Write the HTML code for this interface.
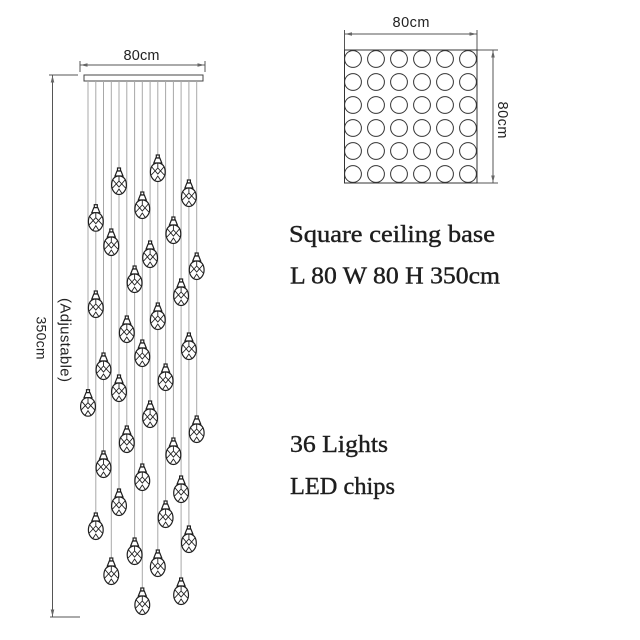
<!DOCTYPE html>
<html><head><meta charset="utf-8"><style>
html,body{margin:0;padding:0;background:#fff;}
svg{display:block;}
</style></head><body>
<svg width="640" height="640" viewBox="0 0 640 640" xmlns="http://www.w3.org/2000/svg">
<defs>
<g id="pd" fill="#fff" stroke="#1f1f1f" stroke-width="1.2">
<rect x="-1.5" y="-17" width="3" height="3"/>
<path d="M-2,-14 L2,-14 L4,-9 L-4,-9 Z"/>
<path d="M0,-9 C5,-9 7.4,-5 7.4,0 C7.4,5 4,9.5 0,9.5 C-4,9.5 -7.4,5 -7.4,0 C-7.4,-5 -5,-9 0,-9 Z"/>
<path d="M-6,-5 L0,2 L6,-5 M-6.5,3 L0,-4 L6.5,3 M-3,8.5 L0,4 L3,8.5 M0,-9 L0,-4" fill="none" stroke-width="0.9"/>
</g>
<path id="ar" d="M0,0 L7,-1.8 L7,1.8 Z" fill="#666" stroke="none"/>
</defs>

<!-- LEFT: top dimension -->
<g stroke="#555" stroke-width="1" fill="none">
<line x1="80" y1="65" x2="205" y2="65"/>
<line x1="80" y1="61" x2="80" y2="72"/>
<line x1="205" y1="61" x2="205" y2="72"/>
</g>
<use href="#ar" transform="translate(80.5,65)"/>
<use href="#ar" transform="translate(204.5,65) rotate(180)"/>
<text x="141.5" y="60" font-family="Liberation Sans, sans-serif" font-size="14.5" fill="#222" text-anchor="middle" textLength="36">80cm</text>

<!-- Vertical dimension -->
<g stroke="#555" stroke-width="1" fill="none">
<line x1="52.5" y1="75" x2="52.5" y2="617"/>
<line x1="49" y1="75" x2="78" y2="75"/>
<line x1="50" y1="617" x2="80" y2="617"/>
</g>
<use href="#ar" transform="translate(52.5,75.5) rotate(90)"/>
<use href="#ar" transform="translate(52.5,616.5) rotate(-90)"/>
<text transform="translate(41.5,338) rotate(90)" font-family="Liberation Sans, sans-serif" font-size="14" fill="#222" text-anchor="middle" dominant-baseline="central" textLength="43">350cm</text>
<text transform="translate(65,340) rotate(90)" font-family="Liberation Sans, sans-serif" font-size="15" fill="#222" text-anchor="middle" dominant-baseline="central" textLength="84">(Adjustable)</text>

<!-- Canopy -->
<rect x="84" y="75" width="119" height="6" fill="#fff" stroke="#444" stroke-width="1"/>

<!-- Wires -->
<g stroke="#a8a8a8" stroke-width="1">
<line x1="88" y1="81" x2="88" y2="390"/>
<line x1="95.8" y1="81" x2="95.8" y2="513"/>
<line x1="103.5" y1="81" x2="103.5" y2="451"/>
<line x1="111.3" y1="81" x2="111.3" y2="558"/>
<line x1="119" y1="81" x2="119" y2="489"/>
<line x1="126.8" y1="81" x2="126.8" y2="426"/>
<line x1="134.6" y1="81" x2="134.6" y2="538"/>
<line x1="142.3" y1="81" x2="142.3" y2="588"/>
<line x1="150.1" y1="81" x2="150.1" y2="401"/>
<line x1="157.8" y1="81" x2="157.8" y2="550"/>
<line x1="165.6" y1="81" x2="165.6" y2="501"/>
<line x1="173.4" y1="81" x2="173.4" y2="438"/>
<line x1="181.1" y1="81" x2="181.1" y2="578"/>
<line x1="188.9" y1="81" x2="188.9" y2="526"/>
<line x1="196.7" y1="81" x2="196.7" y2="416"/>
</g>

<!-- Pendants -->
<use href="#pd" x="88" y="406.7"/>
<use href="#pd" x="95.8" y="221.7"/>
<use href="#pd" x="95.8" y="308"/>
<use href="#pd" x="95.8" y="530"/>
<use href="#pd" x="103.5" y="370"/>
<use href="#pd" x="103.5" y="468"/>
<use href="#pd" x="111.3" y="246"/>
<use href="#pd" x="111.3" y="575"/>
<use href="#pd" x="119" y="185"/>
<use href="#pd" x="119" y="392"/>
<use href="#pd" x="119" y="506"/>
<use href="#pd" x="126.8" y="333"/>
<use href="#pd" x="126.8" y="443"/>
<use href="#pd" x="134.6" y="283"/>
<use href="#pd" x="134.6" y="555"/>
<use href="#pd" x="142.3" y="209"/>
<use href="#pd" x="142.3" y="357"/>
<use href="#pd" x="142.3" y="481"/>
<use href="#pd" x="142.3" y="605"/>
<use href="#pd" x="150.1" y="258"/>
<use href="#pd" x="150.1" y="418"/>
<use href="#pd" x="157.8" y="172"/>
<use href="#pd" x="157.8" y="320"/>
<use href="#pd" x="157.8" y="567"/>
<use href="#pd" x="165.6" y="381"/>
<use href="#pd" x="165.6" y="518"/>
<use href="#pd" x="173.4" y="234"/>
<use href="#pd" x="173.4" y="455"/>
<use href="#pd" x="181.1" y="296"/>
<use href="#pd" x="181.1" y="493"/>
<use href="#pd" x="181.1" y="595"/>
<use href="#pd" x="188.9" y="197"/>
<use href="#pd" x="188.9" y="350"/>
<use href="#pd" x="188.9" y="543"/>
<use href="#pd" x="196.7" y="270"/>
<use href="#pd" x="196.7" y="433"/>

<!-- TOP RIGHT: square base -->
<g stroke="#555" stroke-width="1" fill="none">
<line x1="344.5" y1="34" x2="477" y2="34"/>
<line x1="344.5" y1="30" x2="344.5" y2="50"/>
<line x1="477" y1="30" x2="477" y2="50"/>
<line x1="493" y1="50" x2="493" y2="183"/>
<line x1="477" y1="50" x2="498" y2="50"/>
<line x1="477" y1="183" x2="498" y2="183"/>
</g>
<use href="#ar" transform="translate(345,34)"/>
<use href="#ar" transform="translate(476.5,34) rotate(180)"/>
<use href="#ar" transform="translate(493,50.5) rotate(90)"/>
<use href="#ar" transform="translate(493,182.5) rotate(-90)"/>
<text x="411" y="27" font-family="Liberation Sans, sans-serif" font-size="14.5" fill="#222" text-anchor="middle" textLength="37">80cm</text>
<text transform="translate(502,120) rotate(90)" font-family="Liberation Sans, sans-serif" font-size="14.5" fill="#222" text-anchor="middle" dominant-baseline="central" textLength="37">80cm</text>

<rect x="344.5" y="50" width="132.5" height="133" fill="#fff" stroke="#333" stroke-width="1"/>
<g fill="none" stroke="#333" stroke-width="1">
<circle cx="353" cy="59" r="8.4"/><circle cx="376" cy="59" r="8.4"/><circle cx="399" cy="59" r="8.4"/><circle cx="422" cy="59" r="8.4"/><circle cx="445" cy="59" r="8.4"/><circle cx="468" cy="59" r="8.4"/>
<circle cx="353" cy="82" r="8.4"/><circle cx="376" cy="82" r="8.4"/><circle cx="399" cy="82" r="8.4"/><circle cx="422" cy="82" r="8.4"/><circle cx="445" cy="82" r="8.4"/><circle cx="468" cy="82" r="8.4"/>
<circle cx="353" cy="105" r="8.4"/><circle cx="376" cy="105" r="8.4"/><circle cx="399" cy="105" r="8.4"/><circle cx="422" cy="105" r="8.4"/><circle cx="445" cy="105" r="8.4"/><circle cx="468" cy="105" r="8.4"/>
<circle cx="353" cy="128" r="8.4"/><circle cx="376" cy="128" r="8.4"/><circle cx="399" cy="128" r="8.4"/><circle cx="422" cy="128" r="8.4"/><circle cx="445" cy="128" r="8.4"/><circle cx="468" cy="128" r="8.4"/>
<circle cx="353" cy="151" r="8.4"/><circle cx="376" cy="151" r="8.4"/><circle cx="399" cy="151" r="8.4"/><circle cx="422" cy="151" r="8.4"/><circle cx="445" cy="151" r="8.4"/><circle cx="468" cy="151" r="8.4"/>
<circle cx="353" cy="174" r="8.4"/><circle cx="376" cy="174" r="8.4"/><circle cx="399" cy="174" r="8.4"/><circle cx="422" cy="174" r="8.4"/><circle cx="445" cy="174" r="8.4"/><circle cx="468" cy="174" r="8.4"/>
</g>

<!-- Right-side text -->
<g font-family="Liberation Serif, serif" font-size="24" fill="#1e1e1e" stroke="#1e1e1e" stroke-width="0.4">
<text x="289" y="242" textLength="206" lengthAdjust="spacingAndGlyphs">Square ceiling base</text>
<text x="290" y="283.5" textLength="210" lengthAdjust="spacingAndGlyphs">L 80 W 80 H 350cm</text>
<text x="290" y="452" textLength="98" lengthAdjust="spacingAndGlyphs">36 Lights</text>
<text x="290" y="494" textLength="105" lengthAdjust="spacingAndGlyphs">LED chips</text>
</g>
</svg>
</body></html>
